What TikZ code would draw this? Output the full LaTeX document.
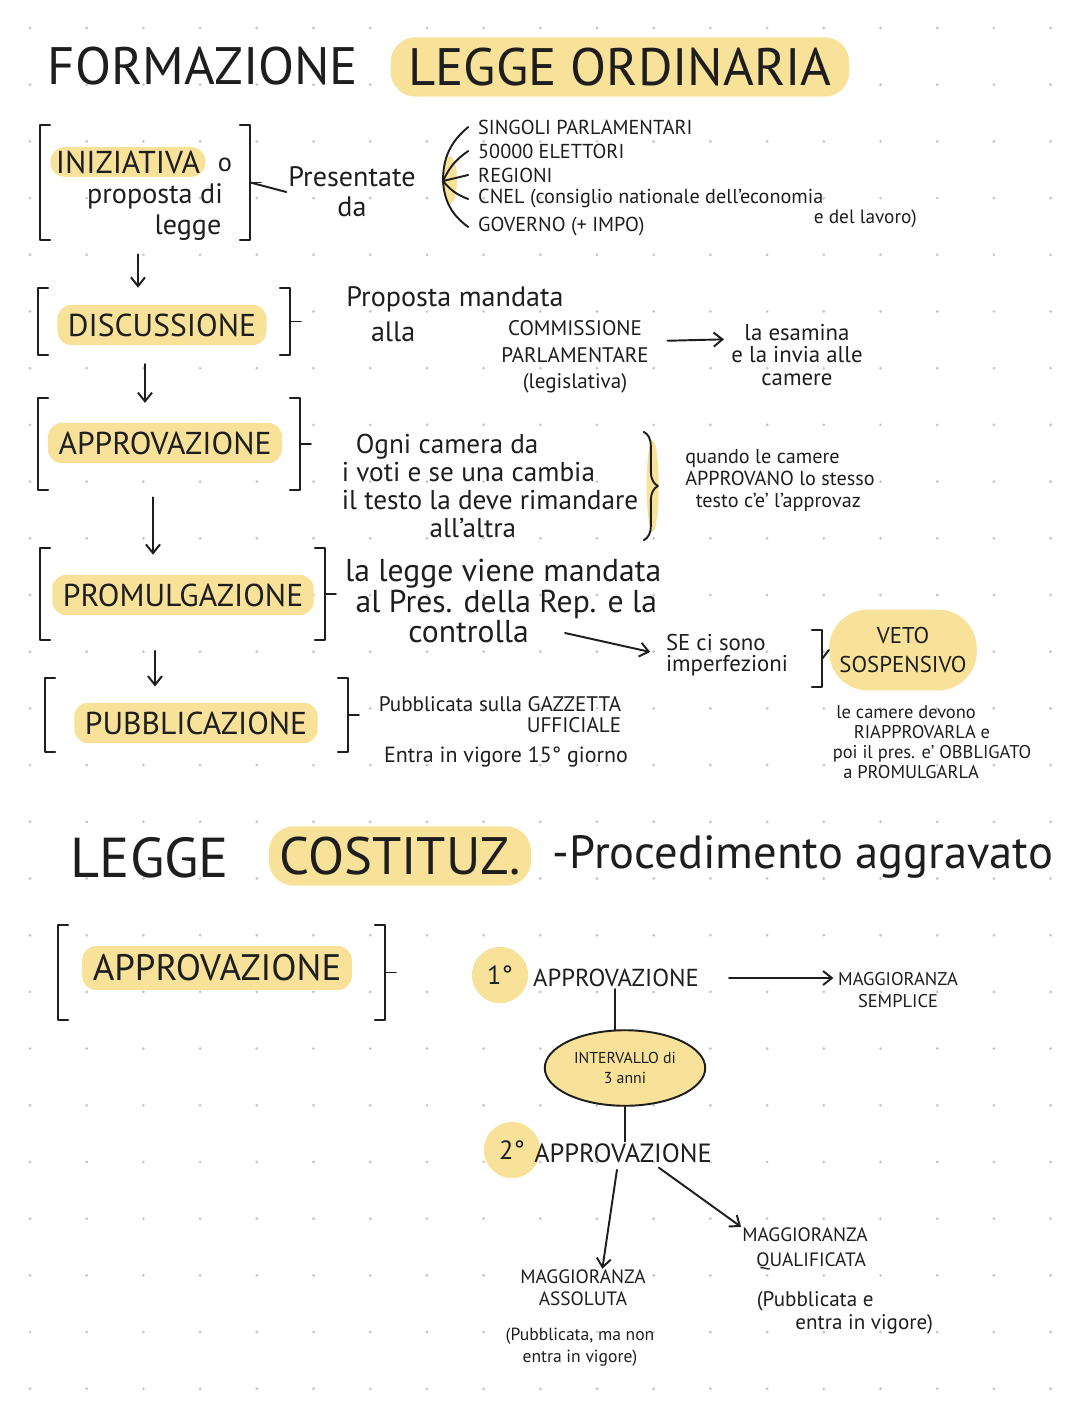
\documentclass[tikz,border=0pt]{standalone}
\usepackage{fontspec}
\setmainfont{PT Sans}
\usetikzlibrary{positioning,fit,arrows.meta,shapes.geometric,decorations.pathreplacing}
\definecolor{hl}{RGB}{248,226,154}
\definecolor{inkc}{RGB}{30,30,30}
\definecolor{dotc}{RGB}{200,200,200}
% square brackets round a fit node, with a short tick on the right
\newcommand{\brk}[1]{%
  \draw[ink] ([xshift=6pt]#1.north west) -- (#1.north west) -- (#1.south west) -- ([xshift=6pt]#1.south west);
  \draw[ink] ([xshift=-6pt]#1.north east) -- (#1.north east) -- (#1.south east) -- ([xshift=-6pt]#1.south east);
  \draw[ink] (#1.east) -- ([xshift=6pt]#1.east);}

\begin{document}
\begin{tikzpicture}[x=0.02cm,y=-0.02cm,
    every node/.append style={text=inkc},
    ink/.style={draw=inkc,line width=1.1pt,line cap=round,line join=round},
    arr/.style={ink,-{Straight Barb[length=5pt,width=8pt]}},
    big/.style={font=\fontsize{30}{34}\selectfont,inner sep=2pt},
    stage/.style={font=\fontsize{18}{20}\selectfont,fill=hl,rounded corners=8pt,inner xsep=6pt,inner ysep=5pt},
    note/.style={font=\fontsize{15}{16}\selectfont,inner sep=1pt},
    caps/.style={font=\fontsize{11.5}{14}\selectfont,inner sep=0.5pt},
    small/.style={font=\fontsize{11}{11.5}\selectfont,inner sep=1pt},
    num/.style={circle,fill=hl,minimum size=32pt,inner sep=0pt,font=\fontsize{15}{16}\selectfont}]
\useasboundingbox[fill=white] (0,0) rectangle (1080,1417);

% dotted paper
\foreach \i in {0,...,18}
  \foreach \j in {0,...,24}
    \fill[dotc] (30+56.7*\i,28+56.7*\j) circle (0.9pt);

% title
\node[big] (tf) at (203,66) {FORMAZIONE};
\node[big,fill=hl,rounded corners=14pt,inner xsep=10pt,inner ysep=6pt] (to) at (620,67) {LEGGE ORDINARIA};

% iniziativa
\node[stage,inner xsep=3pt,inner ysep=2pt] (ini) at (128,162) {INIZIATIVA};
\node[note] (inio) at (225,165) {o};
\node[note,font=\fontsize{16}{17}\selectfont] (prop) at (155,196) {proposta di};
\node[note,font=\fontsize{16}{17}\selectfont] (leg) at (188,228) {legge};
\node[fit={(40,125) (250,240)},inner sep=0pt] (inib) {};
\brk{inib}

\node[note,font=\fontsize{16}{17}\selectfont,align=center] (pres) at (352,192) {Presentate\\da};
\draw[ink] (inib.east) -- (pres.west);

\coordinate (fan) at (443,181);
\fill[hl] (450,180) ellipse (7 and 24);
\node[caps,anchor=west] (sing) at (477,127) {SINGOLI PARLAMENTARI};
\node[caps,anchor=west] (elet) at (477,151) {50000 ELETTORI};
\node[caps,anchor=west] (reg) at (477,175) {REGIONI};
\node[caps,anchor=west] (cnel) at (477,199) {CNEL (consiglio nationale dell'economia};
\node[caps,font=\fontsize{11}{13}\selectfont,anchor=east] (lav) at (918,219) {e del lavoro)};
\node[caps,anchor=west] (gov) at (477,227) {GOVERNO (+ IMPO)};

%fan of presenters
\draw[ink] (fan) to[bend left=25] ([xshift=-5pt]sing.west);
\draw[ink] (fan) to[bend left=15] ([xshift=-5pt]elet.west);
\draw[ink] (fan) -- ([xshift=-5pt]reg.west);
\draw[ink] (fan) to[bend right=15] ([xshift=-5pt]cnel.west);
\draw[ink] (fan) to[bend right=25] ([xshift=-5pt]gov.west);

% discussione
\node[stage] (disc) at (162,325) {DISCUSSIONE};
\node[fit={(38,288) (290,355)},inner sep=0pt] (discb) {};
\brk{discb}
\node[note,font=\fontsize{16}{20}\selectfont,align=left] (prop2) at (455,314) {Proposta mandata\\\hspace*{14pt}alla};
\node[caps,font=\fontsize{12}{15}\selectfont,align=center] (comm) at (575,357) {COMMISSIONE\\PARLAMENTARE\\(legislativa)};
\node[note,font=\fontsize{13}{13}\selectfont,align=center] (esam) at (797,355) {la esamina\\e la invia alle\\camere};
\draw[arr,shorten <=10pt,shorten >=3pt] ([yshift=9pt]comm.east) -- ([yshift=9pt]esam.west);

% approvazione
\node[stage] (appr) at (165,443) {APPROVAZIONE};
\node[fit={(38,398) (300,490)},inner sep=0pt] (apprb) {};
\brk{apprb}
\node[note,font=\fontsize{15.5}{16}\selectfont,align=left] (ogni) at (490,486) {\hspace*{8pt}Ogni camera da\\i voti e se una cambia\\il testo la deve rimandare\\\hspace*{50pt}all'altra};
\fill[hl] ([xshift=7pt]ogni.east) ellipse (6 and 46);
\draw[ink,decorate,decoration={brace,amplitude=8pt}] ([xshift=2pt]ogni.north east) -- ([xshift=2pt]ogni.south east);
\node[small,font=\fontsize{11.5}{12.5}\selectfont,align=left] (quan) at (780,480) {quando le camere\\APPROVANO lo stesso\\\hspace*{6pt}testo c'e' l'approvaz};

% promulgazione
\node[stage] (prom) at (183,595) {PROMULGAZIONE};
\node[fit={(40,548) (325,640)},inner sep=0pt] (promb) {};
\brk{promb}
\node[note,font=\fontsize{18}{17.5}\selectfont,align=left,anchor=west] (mand) at (343,601) {la legge viene mandata\\\hspace*{6pt}al Pres. della Rep. e la\\\hspace*{36pt}controlla};
\coordinate (ctl) at (565,633);
\node[note,font=\fontsize{13}{12}\selectfont,align=left] (se) at (727,655) {SE ci sono\\imperfezioni};
\draw[arr,shorten >=8pt] (ctl) -- (se.west);
\node[fit={(650,630) (822,687)},inner sep=0pt] (seb) {};
\draw[ink] ([xshift=-6pt]seb.north east) -- (seb.north east) -- (seb.south east) -- ([xshift=-6pt]seb.south east);
\node[fill=hl,rounded corners=22pt,minimum width=84pt,minimum height=46pt,inner sep=2pt,
      font=\fontsize{13}{17}\selectfont,align=center] (veto) at (903,650) {VETO\\SOSPENSIVO};
\draw[ink] (seb.east) -- (veto.west);
\node[small,font=\fontsize{10.5}{11.3}\selectfont,align=left] (dev) at (932,742) {\hspace*{2pt}le camere devono\\\hspace*{12pt}RIAPPROVARLA e\\poi il pres. e' OBBLIGATO\\\hspace*{6pt}a PROMULGARLA};

% pubblicazione
\node[stage] (pubb) at (196,723) {PUBBLICAZIONE};
\node[fit={(45,678) (348,752)},inner sep=0pt] (pubbb) {};
\brk{pubbb}
\node[small,font=\fontsize{12}{12}\selectfont,align=right] (gaz) at (500,715) {Pubblicata sulla GAZZETTA\\UFFICIALE};
\node[small,font=\fontsize{12.5}{13}\selectfont] (entr) at (506,757) {Entra in vigore 15° giorno};

% steps of the first part
\draw[arr,shorten <=8pt] (inib.south -| 138,0) -- (discb.north -| 138,0);
\draw[arr,shorten <=5pt] (discb.south -| 145,0) -- ([yshift=-3pt]apprb.north -| 145,0);
\draw[arr,shorten <=4pt] (apprb.south -| 153,0) -- ([yshift=-4pt]promb.north -| 153,0);
\draw[arr,shorten <=6pt] (promb.south -| 155,0) -- ([yshift=-5pt]pubbb.north -| 155,0);

% legge costituzionale
\node[big,font=\fontsize{32}{34}\selectfont] (lg) at (150,858) {LEGGE};
\node[big,fill=hl,rounded corners=14pt,inner xsep=6pt,inner ysep=6pt] (cost) at (400,856) {COSTITUZ.};
\node[font=\fontsize{26.5}{28}\selectfont] (proc) at (803,857) {-Procedimento aggravato};

\node[stage,font=\fontsize{21}{24}\selectfont] (appr2) at (217,968) {APPROVAZIONE};
\node[fit={(58,925) (385,1020)},inner sep=0pt] (appr2b) {};
\brk{appr2b}

\node[num] (n1) at (500,975) {1°};
\node[note,font=\fontsize{14}{15}\selectfont] (ap1) at (616,978) {APPROVAZIONE};
\node[caps,font=\fontsize{10.5}{13}\selectfont,align=center] (sem) at (898,990) {MAGGIORANZA\\SEMPLICE};
\draw[arr,shorten <=16pt,shorten >=2pt] (ap1.east) -- (sem.west |- ap1.east);

\node[ellipse,draw=inkc,line width=1.1pt,fill=hl,minimum width=88pt,minimum height=43pt,
      font=\fontsize{9}{11}\selectfont,align=center] (int) at (625,1068) {INTERVALLO di\\3 anni};
\draw[ink] (int.105) -- (int.105 |- ap1.south);

\node[num] (n2) at (512,1150) {2°};
\node[note,font=\fontsize{15}{16}\selectfont] (ap2) at (623,1153) {APPROVAZIONE};
\draw[ink] (int.south) -- (int.south |- ap2.north);

\node[caps,font=\fontsize{11}{12.5}\selectfont,align=center] (ass) at (583,1288) {MAGGIORANZA\\ASSOLUTA};
\node[caps,font=\fontsize{11}{14}\selectfont,align=left] (qual) at (805,1249) {MAGGIORANZA\\\hspace*{8pt}QUALIFICATA};
\node[small,font=\fontsize{10}{12.5}\selectfont,align=center] (pub1) at (580,1347) {(Pubblicata, ma non\\entra in vigore)};
\node[small,font=\fontsize{12}{13}\selectfont,align=left] (pub2) at (845,1313) {(Pubblicata e\\\hspace*{22pt}entra in vigore)};

\draw[arr,shorten <=3pt] ([xshift=-3pt]ap2.south) -- ([xshift=11pt]ass.north);
\draw[arr,shorten <=3pt] ([xshift=18pt]ap2.south) -- (qual.north west);
\end{tikzpicture}
\end{document}
